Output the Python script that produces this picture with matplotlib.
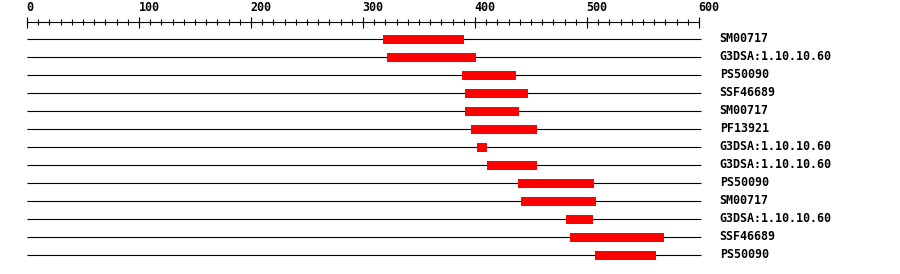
import numpy as np
import matplotlib
matplotlib.use('Agg')
import matplotlib.pyplot as plt

# domain hits along the protein (residue positions)
labels = ['SM00717', 'G3DSA:1.10.10.60', 'PS50090', 'SSF46689', 'SM00717',
          'PF13921', 'G3DSA:1.10.10.60', 'G3DSA:1.10.10.60', 'PS50090',
          'SM00717', 'G3DSA:1.10.10.60', 'SSF46689', 'PS50090']
starts = [318, 321, 388, 391, 391, 396, 402, 411, 438, 441, 481, 485, 507]
ends = [390, 401, 437, 447, 439, 455, 411, 455, 506, 508, 505, 569, 562]
seq_len = 600
tick_major = [0, 100, 200, 300, 400, 500, 600]

W, H, DPI = 900, 274, 100
x0_px, px_per_res = 27, 1.12
row0_px, row_px = 39, 18

fig = plt.figure(figsize=(W / DPI, H / DPI), dpi=DPI)
ax = fig.add_axes([0, 0, 1, 1])
ax.set_xlim(-x0_px / px_per_res, (W - x0_px) / px_per_res)
ax.set_ylim((H - row0_px) / row_px, -row0_px / row_px)
ax.axis('off')


def py(p):
    # pixel row -> row units
    return (p - row0_px) / row_px


font = dict(family=['DejaVu Sans Mono'], fontweight='bold', fontsize=8.4)

# ruler
ax.plot([0, seq_len], [py(22), py(22)], color='black', lw=0.8)
minor = np.arange(0, seq_len + 1, 10)
ax.vlines(minor, py(19), py(25), color='black', lw=0.8)
ax.vlines(tick_major, py(17), py(28), color='black', lw=0.8)
for t in tick_major:
    ax.text(t - 0.5, py(11), str(t), ha='left', va='baseline', **font)

# rows
rows = np.arange(len(labels))
ax.hlines(rows, 0, seq_len + 2, color='black', lw=0.8)
ax.barh(rows, np.array(ends) - np.array(starts), left=starts, height=0.5,
        color='#ff0000', edgecolor='none', zorder=3)
for r, lab in zip(rows, labels):
    ax.text(618.5, r, lab, ha='left', va='center', **font)

fig.savefig('out.png', dpi=DPI)
